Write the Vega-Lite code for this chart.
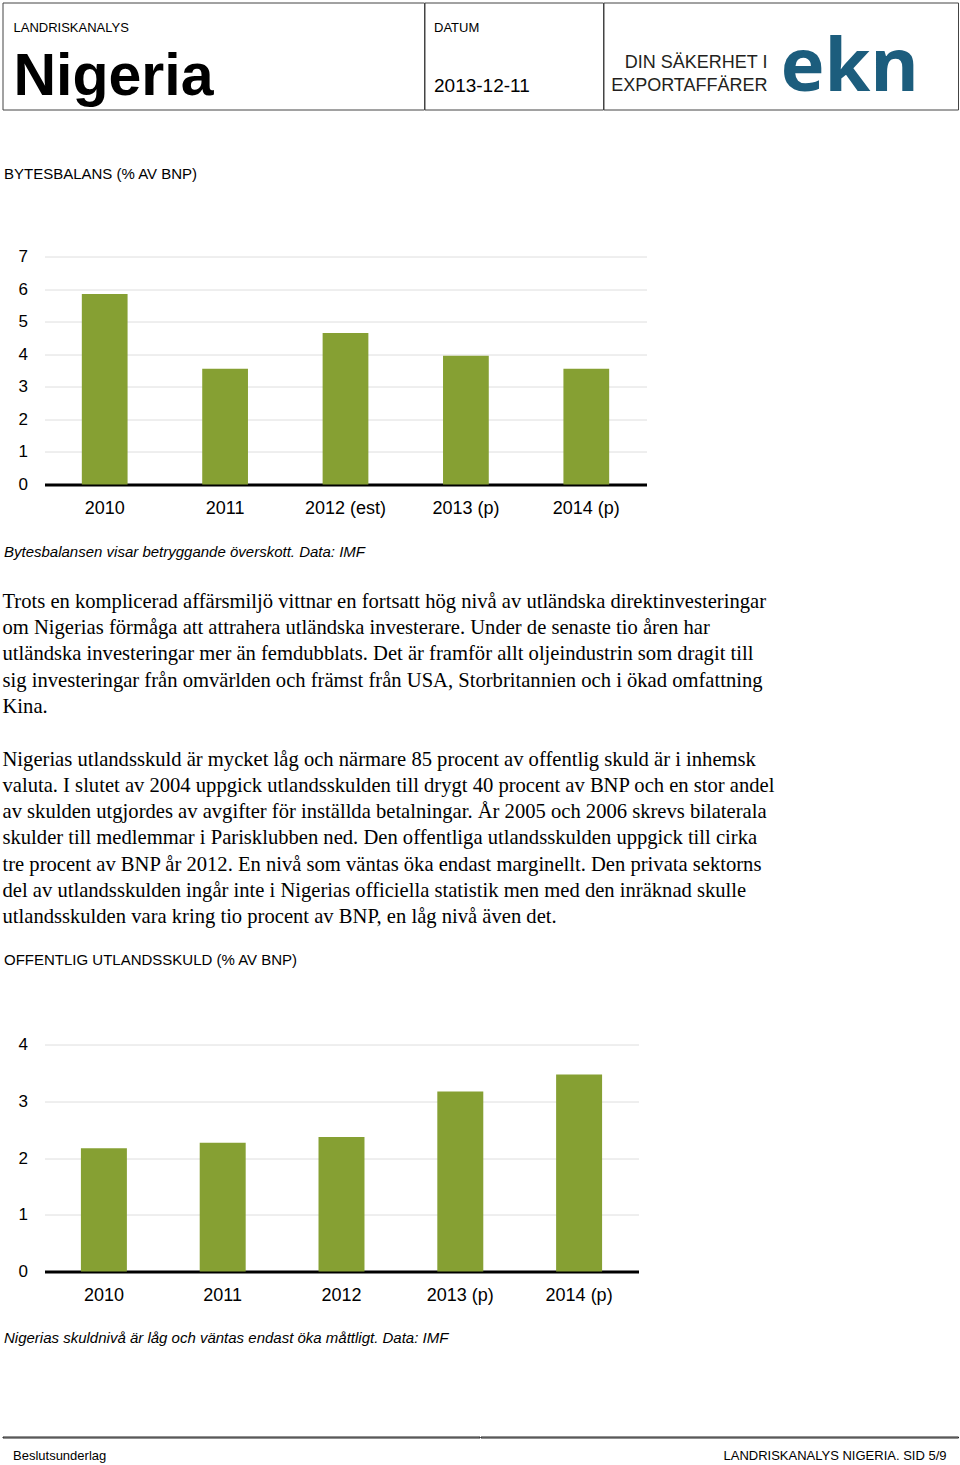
{
  "$schema": "https://vega.github.io/schema/vega-lite/v6.json",
  "background": "white",
  "padding": {"left": 1.5, "top": 1.5, "right": 0, "bottom": 0},
  "config": {
    "view": {"stroke": null},
    "font": "Liberation Sans",
    "axis": {"labelFont": "Liberation Sans", "titleFont": "Liberation Sans", "labelColor": "#000", "titleColor": "#000"},
    "title": {"font": "Liberation Sans", "subtitleFont": "Liberation Sans", "color": "#000", "subtitleColor": "#000", "baseline": "top"}
  },
  "vconcat": [
    {
      "vconcat": [
        {
          "hconcat": [
            {
              "width": 421.5, "height": 107,
              "view": {"stroke": "#444", "strokeWidth": 1},
              "data": {"values": []},
              "mark": "text",
              "title": {"text": "LANDRISKANALYS", "subtitle": "Nigeria", "orient": "top", "anchor": "start", "frame": "group", "offset": -104.8, "dx": 11, "fontSize": 13, "fontWeight": "normal", "subtitleFontSize": 59, "subtitleFontWeight": "bold", "subtitlePadding": 13}
            },
            {
              "width": 178.5, "height": 107,
              "view": {"stroke": "#444", "strokeWidth": 1},
              "data": {"values": []},
              "mark": "text",
              "title": {"text": "DATUM", "subtitle": "2013-12-11", "orient": "top", "anchor": "start", "frame": "group", "offset": -93.2, "dx": 9.5, "fontSize": 13, "fontWeight": "normal", "subtitleFontSize": 19, "subtitleFontWeight": "normal", "subtitlePadding": 42}
            },
            {
              "width": 354.5, "height": 107,
              "view": {"stroke": "#444", "strokeWidth": 1},
              "data": {"values": [{"label": "ekn"}]},
              "mark": {"type": "text", "align": "left", "baseline": "line-top", "lineHeight": 28, "fontSize": 74, "fontWeight": "bold", "font": "Open Sans", "color": "#1c5d7d"},
              "encoding": {"text": {"field": "label", "type": "nominal"}},
              "title": {"text": ["DIN SÄKERHET I", "EXPORTAFFÄRER"], "orient": "top", "anchor": "start", "align": "right", "frame": "group", "dx": 164, "offset": -92.9, "fontSize": 18, "lineHeight": 23, "fontWeight": "normal", "color": "#231f20"}
            }
          ],
          "spacing": -1.5
        },
        {
          "vconcat": [
            {
              "hconcat": [
                {"width": 1, "height": 1, "data": {"values": []}, "mark": "text"},
                {
                  "width": 602, "height": 228,
                  "data": {"values": [
                    {"year": "2010", "value": 5.85},
                    {"year": "2011", "value": 3.55},
                    {"year": "2012 (est)", "value": 4.65},
                    {"year": "2013 (p)", "value": 3.95},
                    {"year": "2014 (p)", "value": 3.55}
                  ]},
                  "mark": {"type": "bar", "color": "#86a033"},
                  "encoding": {
                    "x": {"field": "year", "type": "nominal", "sort": null,
                      "scale": {"paddingInner": 0.62, "paddingOuter": 0.31},
                      "axis": {"title": "Bytesbalansen visar betryggande överskott. Data: IMF", "titleX": -41, "titleY": 72, "titleAlign": "left", "titleBaseline": "alphabetic", "titleFontSize": 15, "titleFontStyle": "italic", "titleFontWeight": "normal", "titleLimit": 1000, "labelAngle": 0, "labelFontSize": 18, "labelPadding": 15, "ticks": false, "domainColor": "#000", "domainWidth": 3}},
                    "y": {"field": "value", "type": "quantitative",
                      "scale": {"domain": [0, 7], "nice": false},
                      "axis": {"values": [0, 1, 2, 3, 4, 5, 6, 7], "title": "BYTESBALANS (% AV BNP)", "titleAngle": 0, "titleX": -41, "titleY": -78, "titleAlign": "left", "titleBaseline": "alphabetic", "titleFontSize": 15, "titleFontWeight": "normal", "titleLimit": 1000, "domain": false, "ticks": false, "labelFontSize": 17, "labelPadding": 17, "grid": true, "gridColor": "#dedede"}}
                  }
                }
              ],
              "spacing": 0
            },
            {
              "width": 900, "height": 8.3,
              "data": {"values": []},
              "mark": "text",
              "title": {
                "text": [
                  "Trots en komplicerad affärsmiljö vittnar en fortsatt hög nivå av utländska direktinvesteringar",
                  "om Nigerias förmåga att attrahera utländska investerare. Under de senaste tio åren har",
                  "utländska investeringar mer än femdubblats. Det är framför allt oljeindustrin som dragit till",
                  "sig investeringar från omvärlden och främst från USA, Storbritannien och i ökad omfattning",
                  "Kina."
                ],
                "subtitle": [
                  "Nigerias utlandsskuld är mycket låg och närmare 85 procent av offentlig skuld är i inhemsk",
                  "valuta. I slutet av 2004 uppgick utlandsskulden till drygt 40 procent av BNP och en stor andel",
                  "av skulden utgjordes av avgifter för inställda betalningar. År 2005 och 2006 skrevs bilaterala",
                  "skulder till medlemmar i Parisklubben ned. Den offentliga utlandsskulden uppgick till cirka",
                  "tre procent av BNP år 2012. En nivå som väntas öka endast marginellt. Den privata sektorns",
                  "del av utlandsskulden ingår inte i Nigerias officiella statistik men med den inräknad skulle",
                  "utlandsskulden vara kring tio procent av BNP, en låg nivå även det."
                ],
                "orient": "bottom", "anchor": "start", "frame": "group", "offset": 0, "limit": 1000,
                "font": "Liberation Serif", "fontSize": 20.6, "fontWeight": "normal", "lineHeight": 26.3,
                "subtitleFont": "Liberation Serif", "subtitleFontSize": 20.6, "subtitleFontWeight": "normal", "subtitleLineHeight": 26.3, "subtitlePadding": 31.9
              }
            },
            {
              "hconcat": [
                {"width": 1, "height": 1, "data": {"values": []}, "mark": "text"},
                {
                  "width": 594, "height": 227,
                  "data": {"values": [
                    {"year": "2010", "value": 2.17},
                    {"year": "2011", "value": 2.27},
                    {"year": "2012", "value": 2.37},
                    {"year": "2013 (p)", "value": 3.17},
                    {"year": "2014 (p)", "value": 3.47}
                  ]},
                  "mark": {"type": "bar", "color": "#86a033"},
                  "encoding": {
                    "x": {"field": "year", "type": "nominal", "sort": null,
                      "scale": {"paddingInner": 0.613, "paddingOuter": 0.3065},
                      "axis": {"title": "Nigerias skuldnivå är låg och väntas endast öka måttligt. Data: IMF", "titleX": -41, "titleY": 71, "titleAlign": "left", "titleBaseline": "alphabetic", "titleFontSize": 15, "titleFontStyle": "italic", "titleFontWeight": "normal", "titleLimit": 1000, "labelAngle": 0, "labelFontSize": 18, "labelPadding": 15, "ticks": false, "domainColor": "#000", "domainWidth": 3}},
                    "y": {"field": "value", "type": "quantitative",
                      "scale": {"domain": [0, 4], "nice": false},
                      "axis": {"values": [0, 1, 2, 3, 4], "title": "OFFENTLIG UTLANDSSKULD (% AV BNP)", "titleAngle": 0, "titleX": -41, "titleY": -80, "titleAlign": "left", "titleBaseline": "alphabetic", "titleFontSize": 15, "titleFontWeight": "normal", "titleLimit": 1000, "domain": false, "ticks": false, "labelFontSize": 17, "labelPadding": 17, "grid": true, "gridColor": "#dedede"}}
                  }
                }
              ],
              "spacing": 0
            }
          ],
          "spacing": 24
        }
      ],
      "spacing": 56
    },
    {
      "hconcat": [
        {
          "width": 477, "height": 1,
          "view": {"stroke": "#222", "strokeWidth": 1},
          "data": {"values": []},
          "mark": "text",
          "title": {"text": "Beslutsunderlag", "orient": "bottom", "anchor": "start", "frame": "group", "offset": 12, "dx": 10.5, "fontSize": 13, "fontWeight": "normal"}
        },
        {
          "width": 477.5, "height": 1,
          "view": {"stroke": "#222", "strokeWidth": 1},
          "data": {"values": []},
          "mark": "text",
          "title": {"text": "LANDRISKANALYS NIGERIA. SID 5/9", "orient": "bottom", "anchor": "end", "frame": "group", "offset": 12, "dx": -11.5, "fontSize": 13, "fontWeight": "normal"}
        }
      ],
      "spacing": -1.5
    }
  ],
  "spacing": 90
}
